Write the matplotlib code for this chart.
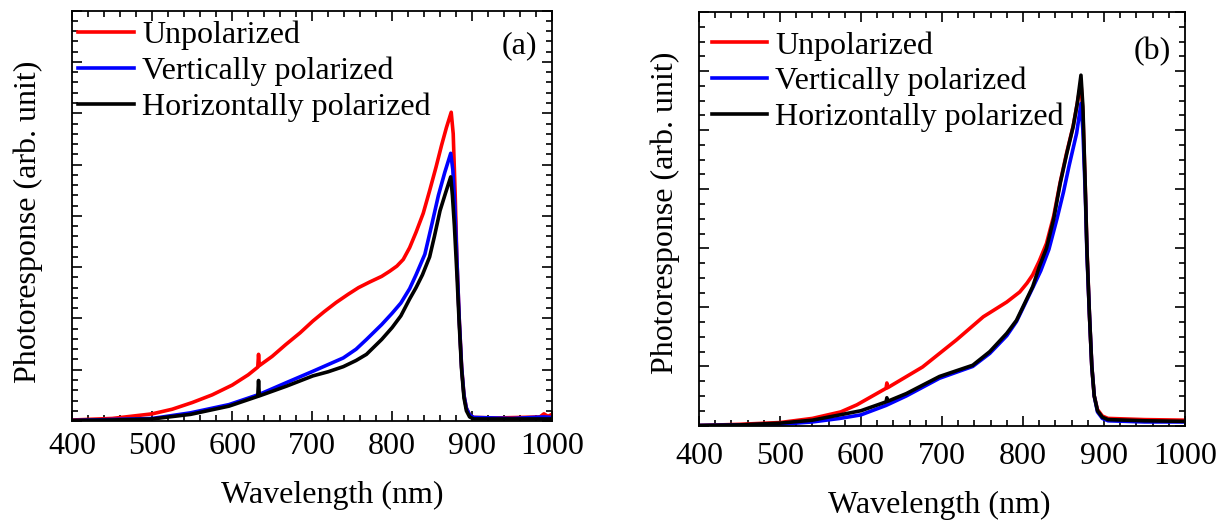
import matplotlib
matplotlib.use("Agg")
import matplotlib.pyplot as plt
from matplotlib.ticker import MultipleLocator

plt.rcParams['font.family'] = ['Liberation Serif', 'DejaVu Serif']
plt.rcParams['mathtext.fontset'] = 'stix'

# ---------------- data: panel (a) ----------------
a_unpol_wl = [400, 450, 500, 525, 550, 575, 600, 620, 632, 633, 634, 650, 667, 685, 701, 715, 730, 745, 758,
              772, 787, 797, 806, 814, 822, 830, 839, 847, 855, 862, 868, 874, 876.5, 879, 881, 884, 887,
              890, 893, 897, 902, 930, 960, 985, 990, 995, 1000]
a_unpol = [0.02, 0.05, 0.14, 0.23, 0.36, 0.51, 0.70, 0.90, 1.05, 1.30, 1.08, 1.26, 1.49, 1.72, 1.95, 2.13, 2.31,
           2.47, 2.60, 2.71, 2.82, 2.92, 3.02, 3.15, 3.38, 3.68, 4.05, 4.49, 4.95, 5.38, 5.72, 6.02, 5.6, 4.4,
           3.2, 2.0, 1.05, 0.5, 0.25, 0.12, 0.07, 0.06, 0.07, 0.08, 0.14, 0.09, 0.13]

a_vert_wl = [400, 450, 500, 548, 596, 634, 668, 701, 720, 739, 755, 768, 787, 800, 811, 822, 830, 841, 850, 858,
             866, 873.4, 876, 878.5, 881, 884, 887, 890, 893, 897, 902, 950, 990, 1000]
a_vert = [0.01, 0.03, 0.05, 0.16, 0.32, 0.52, 0.75, 0.97, 1.10, 1.23, 1.40, 1.59, 1.88, 2.10, 2.30, 2.58, 2.85,
          3.25, 3.85, 4.40, 4.85, 5.22, 4.9, 4.2, 3.2, 2.0, 1.05, 0.5, 0.25, 0.12, 0.07, 0.05, 0.08, 0.07]

a_horiz_wl = [400, 450, 500, 548, 596, 632, 633, 634, 668, 701, 720, 739, 755, 768, 787, 800, 811, 822, 830,
              838, 847, 853, 860, 867, 873.4, 875.5, 878, 881, 884, 887, 890, 893, 897, 902, 1000]
a_horiz = [0.01, 0.02, 0.04, 0.13, 0.29, 0.48, 0.79, 0.49, 0.68, 0.88, 0.96, 1.06, 1.18, 1.30, 1.59, 1.82, 2.05,
           2.38, 2.60, 2.85, 3.20, 3.60, 4.10, 4.45, 4.76, 4.4, 3.8, 2.9, 1.9, 1.0, 0.45, 0.2, 0.08, 0.04, 0.04]

# ---------------- data: panel (b) ----------------
b_unpol_wl = [400, 450, 500, 540, 575, 595, 631, 632, 633, 676, 697, 718, 751, 780, 796, 805, 812, 820, 829, 838,
              846, 854, 862, 867, 871.6, 874, 877, 879, 882, 885, 888, 892, 898, 905, 950, 1000]
b_unpol = [0.0, 0.02, 0.05, 0.12, 0.23, 0.35, 0.63, 0.72, 0.64, 0.99, 1.22, 1.45, 1.84, 2.09, 2.26, 2.41, 2.55,
           2.78, 3.08, 3.55, 4.12, 4.62, 5.07, 5.45, 5.80, 5.3, 4.0, 3.0, 1.9, 1.0, 0.5, 0.27, 0.16, 0.12, 0.10,
           0.09]

b_vert_wl = [400, 500, 540, 574, 600, 631, 656, 697, 738, 759, 780, 792, 812, 822, 832, 842, 850, 857, 866.3,
             871.6, 874, 877, 879, 882, 885, 888, 892, 898, 905, 950, 1000]
b_vert = [0.0, 0.02, 0.06, 0.12, 0.18, 0.34, 0.50, 0.80, 1.00, 1.22, 1.52, 1.76, 2.33, 2.62, 2.98, 3.50, 3.95,
          4.40, 4.95, 5.45, 5.0, 3.9, 2.9, 1.9, 1.0, 0.5, 0.23, 0.12, 0.08, 0.06, 0.06]

b_horiz_wl = [400, 450, 500, 540, 574, 600, 631, 632, 633, 656, 697, 738, 759, 780, 792, 812, 820, 829, 838, 846,
              854, 862, 867, 871.6, 874, 877, 879, 882, 885, 888, 892, 898, 905, 950, 1000]
b_horiz = [0.0, 0.01, 0.04, 0.09, 0.18, 0.25, 0.40, 0.47, 0.41, 0.54, 0.83, 1.02, 1.25, 1.56, 1.78, 2.35, 2.68,
           3.0, 3.5, 4.1, 4.6, 5.06, 5.45, 5.93, 5.4, 4.0, 2.97, 1.9, 1.0, 0.5, 0.25, 0.14, 0.10, 0.08, 0.07]

labels = ["Unpolarized", "Vertically polarized", "Horizontally polarized"]
colors = ["#ff0000", "#0000ff", "#000000"]
panel_tags = ["(a)", "(b)"]
xlim = (400, 1000)
x_major = [400, 500, 600, 700, 800, 900, 1000]

fig = plt.figure(figsize=(12.23, 5.21), dpi=100)
ax_a = fig.add_axes([0.0591, 0.1919, 0.3922, 0.7876])
ax_b = fig.add_axes([0.5715, 0.1833, 0.3974, 0.7937])

panels = [
    (ax_a, [(a_unpol_wl, a_unpol), (a_vert_wl, a_vert), (a_horiz_wl, a_horiz)], 8, 0.2),
    (ax_b, [(b_unpol_wl, b_unpol), (b_vert_wl, b_vert), (b_horiz_wl, b_horiz)], 7, 0.25),
]

for i, (ax, series, ytop, yminor) in enumerate(panels):
    for (wl, val), lab, col in zip(series, labels, colors):
        ax.plot(wl, val, color=col, lw=2.6, label=lab, solid_joinstyle='round')
    ax.set_xlim(*xlim)
    ax.set_ylim(0, ytop)
    ax.set_xticks(x_major)
    ax.xaxis.set_minor_locator(MultipleLocator(20))
    ax.yaxis.set_major_locator(MultipleLocator(1))
    ax.yaxis.set_minor_locator(MultipleLocator(yminor))
    ax.set_yticklabels([])
    ax.tick_params(which='both', direction='in', top=True, right=True, width=1.2, labelsize=23)
    ax.tick_params(which='major', length=7)
    ax.tick_params(which='minor', length=4)
    for s in ax.spines.values():
        s.set_linewidth(1.3)
    ax.set_xlabel("Wavelength (nm)", fontsize=23)
    ax.set_ylabel("Photoresponse (arb. unit)", fontsize=23)

# tick label pads / label positions
ax_a.tick_params(axis='x', which='major', pad=8)
ax_b.tick_params(axis='x', which='major', pad=12)
ax_a.xaxis.set_label_coords(0.541, -0.145)
ax_b.xaxis.set_label_coords(0.494, -0.158)
ax_a.yaxis.set_label_coords(-0.062, 0.485)
ax_b.yaxis.set_label_coords(-0.040, 0.514)

ax_a.text(0.97, 0.915, panel_tags[0], transform=ax_a.transAxes, ha='right', va='center', fontsize=23)
ax_b.text(0.97, 0.905, panel_tags[1], transform=ax_b.transAxes, ha='right', va='center', fontsize=23)

leg_kw = dict(frameon=False, fontsize=23, handlelength=1.75, handletextpad=0.25, borderpad=0.0,
              borderaxespad=0.0, labelspacing=0.2, loc='upper left')
ax_a.legend(bbox_to_anchor=(0.0125, 0.975), **leg_kw)
ax_b.legend(bbox_to_anchor=(0.026, 0.954), **leg_kw)

fig.savefig("out.png", dpi=100)
